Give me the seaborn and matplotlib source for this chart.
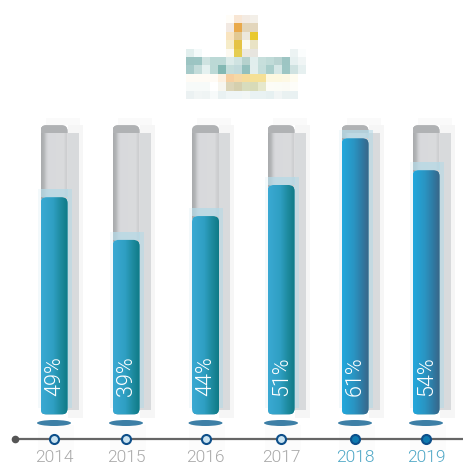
import numpy as np
import pandas as pd
import matplotlib
matplotlib.use("Agg")
import matplotlib.pyplot as plt
import seaborn as sns
from matplotlib.patches import FancyBboxPatch, Ellipse, Rectangle
from matplotlib.colors import to_rgb

years = ["2014", "2015", "2016", "2017", "2018", "2019"]
share_labels = ["49%", "39%", "44%", "51%", "61%", "54%"]
bar_heights = [48.3, 38.8, 44.1, 51.0, 61.4, 54.3]
track_max = [64.3, 64.3, 64.3, 64.3, 64.3, 64.3]
year_pos = [54, 126, 205.5, 281, 355, 426]

logo_cells = [
 ["ffffff","ffffff","ffffff","ffffff","ffffff","fffdf8","f8e6d4","f3ebe3","f3efe8","ffffff","ffffff","ffffff","ffffff","ffffff","ffffff"],
 ["ffffff","ffffff","ffffff","ffffff","ffffff","f2e9e2","e9a94a","e3d5b8","e3d6bc","ffffff","ffffff","ffffff","ffffff","ffffff","ffffff"],
 ["ffffff","ffffff","ffffff","ffffff","ffffff","f9e4bf","e2c993","ece8dc","e9c92e","ffffff","ffffff","ffffff","ffffff","ffffff","ffffff"],
 ["ffffff","ffffff","ffffff","ffffff","ffffff","f6ecc8","e5c345","fbfaf2","e9e3c5","ffffff","ffffff","ffffff","ffffff","ffffff","ffffff"],
 ["e2efee","f4fafa","ffffff","ffffff","ffffff","fcf9f0","e5cd50","ece8e0","e7e5df","ffffff","ffffff","ffffff","ffffff","ecf3f3","fbfdfd"],
 ["9cc4c2","9cc5c3","cfe3e1","bcd9d6","bcd9d6","dcebe9","cfe3e1","b5d1cd","e1eeed","c7dfdc","c0dbd8","b8d3d1","9dc5c3","e6f0f0","f0f5f5"],
 ["a6cac9","c4dcda","e5f1f0","bcd9d6","83b8b3","c5dedb","c1dadb","93c0bd","e2eeed","c5dedb","a9cecb","d5e7e6","9dc6c4","cfe2e1","e6f0f0"],
 ["fffbf5","fffbf5","fffbf5","fffbf5","fdf0e0","f6cfa0","f6d8a5","f6dc9b","f5e096","f5e096","fdf8e0","fdf8e0","fdf8e4","fefcf0","ffffff"],
 ["f7faf9","f7faf9","f7faf9","ffffff","f7f6f0","dcd5b8","d5cfae","d8dcbd","d8dbb8","e6e8cc","fcfcf6","fbfcf6","fbfbf5","fdfdf9","ffffff"],
 ["ebf1f2","f1f5f5","eff4f4","f7fafa","e9f1f2","eff5f6","eff5f6","f2f6f5","e9f2f3","e9f2f3","e6f0f1","f1f5f5","e9f1f1","e9f1f2","ffffff"],
]

sns.set_theme(style="white")
plt.rcParams["font.family"] = ["Roboto", "DejaVu Sans"]

W, H = 463, 468
PX = 4.5            # pixels per percentage point
BASE = 414.5        # pixel row of the zero line
def v(row):         # pixel row -> value
    return (BASE - row) / PX

fig = plt.figure(figsize=(W / 100, H / 100), dpi=100)
ax = fig.add_axes([0, 0, 1, 1])

df = pd.DataFrame({"pos": year_pos, "share": bar_heights, "track": track_max})
bar_w = 27 / 71.0
sns.barplot(data=df, x="pos", y="track", native_scale=True, orient="x", width=bar_w,
            color="#d8d9dc", saturation=1, ax=ax, zorder=3)
n_track = len(ax.patches)
sns.barplot(data=df, x="pos", y="share", native_scale=True, orient="x", width=bar_w,
            color="#2a97b8", saturation=1, ax=ax, zorder=6)

def grad(stops):
    xs = np.linspace(0, 1, 64)
    arr = np.zeros((1, 64, 3))
    ps = [s[0] for s in stops]
    cs = np.array([to_rgb(s[1]) for s in stops])
    for k in range(3):
        arr[0, :, k] = np.interp(xs, ps, cs[:, k])
    return arr

def rounded(x, y, w, h, zorder, r=6):
    p = FancyBboxPatch((x, y), w, h, boxstyle=f"round,pad=0,rounding_size={r}",
                       mutation_aspect=1 / PX, fc="none", ec="none", zorder=zorder)
    ax.add_patch(p)
    return p

track_stops = [(0, "#a9abae"), (.1, "#b2b4b6"), (.2, "#cfd0d3"), (.28, "#d8d9dc"), (.85, "#dadbdd"), (.92, "#cfd0d2"), (1, "#cbccce")]
blue_a = [(0, "#3aa9d3"), (.45, "#2f9fc3"), (.75, "#1d8a9e"), (1, "#0f7a86")]
blue_b = [(0, "#22a8dc"), (.45, "#2a94c2"), (.75, "#2f7aa3"), (1, "#3a6587")]

for i, bar in enumerate(ax.patches[:n_track]):
    x, w = bar.get_x(), bar.get_width()
    top = bar.get_height()
    # blocky soft shadows
    ax.add_patch(Rectangle((x + 5, v(125)), w + 7, v(118) - v(125), fc="#fafafa", ec="none", zorder=1))
    ax.add_patch(Rectangle((x + w, v(418)), 15, v(125) - v(418), fc="#f6f6f6", ec="none", zorder=1))
    ax.add_patch(Rectangle((x + w, v(410)), 11, v(133) - v(410), fc="#d8dadc", ec="none", zorder=2))
    ax.add_patch(Rectangle((x - 3, v(450)), w + 9, v(425) - v(450), fc="#fcfcfc", ec="none", zorder=1))
    p = rounded(x, 0, w, top, 3)
    bar.set_clip_path(p)
    im = ax.imshow(grad(track_stops), extent=[x, x + w, 0, top], aspect="auto", zorder=4)
    im.set_clip_path(p)
    cap = Rectangle((x, v(133)), w, top - v(133), fc="#b0b2b4", ec="none", zorder=4.5)
    ax.add_patch(cap)
    cap.set_clip_path(p)

for i, bar in enumerate(ax.patches[n_track:n_track + 6]):
    x, w = bar.get_x(), bar.get_width()
    h = bar.get_height()
    y0 = v(408)
    # pale glow: barely there on the left, stronger on the right and above the bar
    ax.add_patch(Rectangle((x - 3, y0), 3, h + 8 / PX - y0, fc="#f3f9fb", ec="none", zorder=1.5))
    ax.add_patch(Rectangle((x + w - 1, y0), 5, h + 8 / PX - y0, fc="#b5d9e6", ec="none", alpha=.6, zorder=5))
    ax.add_patch(Rectangle((x, h), w, 8 / PX, fc="#b5d9e6", ec="none", alpha=.75, zorder=5))
    p = rounded(x, 0, w, h, 6)
    bar.set_clip_path(p)
    im = ax.imshow(grad(blue_b if i >= 4 else blue_a), extent=[x, x + w, 0, h], aspect="auto", zorder=7)
    im.set_clip_path(p)
    ax.text(x + w / 2 + 0.5, v(396.5), share_labels[i], rotation=90, ha="center", va="bottom",
            color="white", fontsize=15.5, fontweight=300, zorder=9)
    ax.add_patch(Ellipse((year_pos[i], v(423)), 34, 6 / PX, fc="#3d7fa6", ec="none", zorder=3))

# timeline
ax.plot([15, 463], [v(439), v(439)], color="#666666", lw=1.6, zorder=3, solid_capstyle="butt")
ax.plot([15], [v(439)], "o", ms=5.5, color="#555555", mew=0, zorder=4)
for i, (pos, yr) in enumerate(zip(year_pos, years)):
    active = i >= 4
    ax.plot([pos], [v(439)], "o", ms=6.5, mfc="#0f7ab0" if active else "#c8e2f0",
            mec="#0d4f8a", mew=1.5, zorder=5)
    ax.text(pos, v(458), yr, ha="center", va="center", fontsize=12.5, fontweight=300,
            color="#4ea7c6" if active else "#a8a8a8", zorder=5)

# pixelated logo
logo = np.array([[to_rgb("#" + c) for c in row] for row in logo_cells])
ax.imshow(logo, extent=[186, 306, v(99.5), v(16)], aspect="auto", interpolation="nearest", zorder=2)

ax.set_xlim(0, W)
ax.set_ylim(v(H), v(0))
ax.set_xlabel("")
ax.set_ylabel("")
ax.set_xticks([])
ax.set_yticks([])
for s in ax.spines.values():
    s.set_visible(False)
fig.savefig("out.png", dpi=100, facecolor="white")
